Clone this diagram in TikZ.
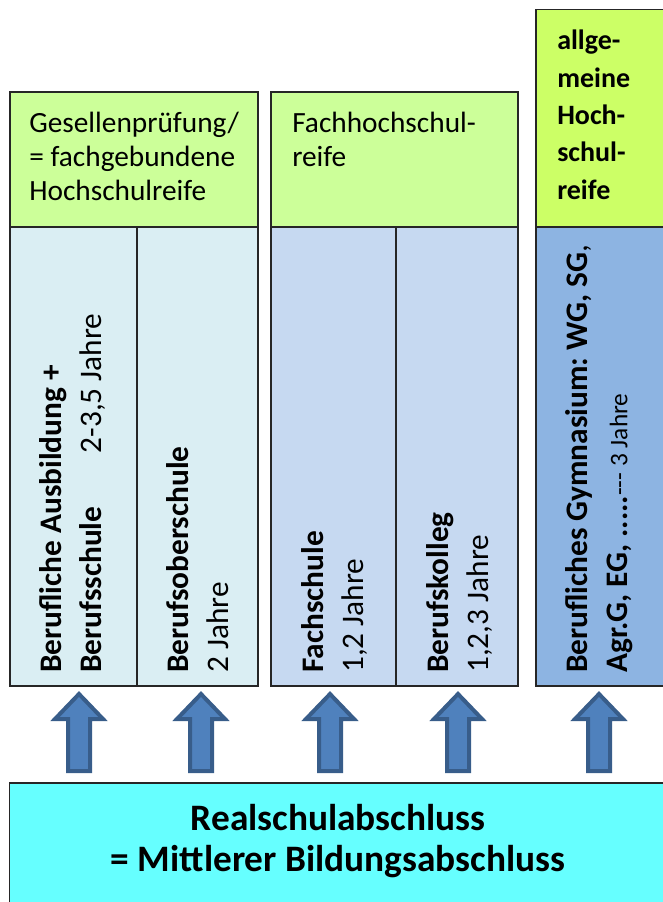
\documentclass[tikz,border=0pt]{standalone}
\usepackage{fontspec}
\setmainfont{Carlito}
\frenchspacing

\definecolor{kopfgruen}{HTML}{CCFF99}
\definecolor{kopfgelb}{HTML}{CCFF66}
\definecolor{hellblau}{HTML}{DAEEF3}
\definecolor{mittelblau}{HTML}{C6D9F1}
\definecolor{dunkelblau}{HTML}{8DB4E2}
\definecolor{tuerkis}{HTML}{66FFFF}
\definecolor{pfeilblau}{HTML}{4F81BD}
\definecolor{pfeilrand}{HTML}{385D8A}

\tikzset{
  kasten/.style={draw=black!85, line width=1.1pt},
  kopftext/.style={anchor=north west, align=left, inner sep=0pt,
    font=\fontsize{22}{25.5}\selectfont},
  spaltentext/.style={rotate=90, anchor=north west, align=left, inner sep=0pt,
    font=\fontsize{23.5}{30}\selectfont},
  pfeil/.style={fill=pfeilblau, draw=pfeilrand, line width=3pt, line join=miter},
}

\begin{document}
\begin{tikzpicture}[x=0.75pt, y=-0.75pt]
    \useasboundingbox (0,0) rectangle (663,902);
    \clip (0,0) rectangle (663,902);

    % Kaesten
    \path[kasten, fill=kopfgruen] (10,92) rectangle (258,227);
    \path[kasten, fill=hellblau] (10,227) rectangle (258,686);
    \draw[kasten] (137,227) -- (137,686);

    \path[kasten, fill=kopfgruen] (271,92) rectangle (518,227);
    \path[kasten, fill=mittelblau] (271,227) rectangle (518,686);
    \draw[kasten] (396,227) -- (396,686);

    \path[kasten, fill=kopfgelb] (536,9.5) rectangle (690,227);
    \path[kasten, fill=dunkelblau] (536,227) rectangle (690,686);

    \path[kasten, fill=tuerkis] (9.5,783) rectangle (690,920);

    % Abschluesse
    \node[kopftext] (gesellen) at (29,112) {Gesellenpr\"ufung/\\= fachgebundene\\Hochschulreife};
    \node[kopftext] (fhr) at (292,112) {Fachhochschul-\\reife};
    \node[kopftext, font=\fontsize{21}{28}\selectfont\bfseries] (ahr) at (557,30)
        {allge-\\meine\\Hoch-\\schul-\\reife};

    % Schularten
    \node[spaltentext] (ausbildung) at (39,673)
        {\textbf{Berufliche Ausbildung +}\\\textbf{Berufsschule}\hspace{40pt}2-3,5 Jahre};
    \node[spaltentext] (bos) at (166,673) {\textbf{Berufsoberschule}\\2 Jahre};
    \node[spaltentext] (fachschule) at (301,673) {\textbf{Fachschule}\\1,2 Jahre};
    \node[spaltentext] (kolleg) at (426,673) {\textbf{Berufskolleg}\\1,2,3 Jahre};
    \node[spaltentext] (gymnasium) at (565,673)
        {\textbf{Berufliches Gymnasium: WG, SG},\\\textbf{Agr.G, EG, .....}{\fontsize{19}{19}\selectfont-{}-{}- 3 Jahre}};

    % Pfeile
    \foreach \cx in {79,201,330,458,599}
        \path[pfeil] (\cx,694) -- (\cx+24,719) -- (\cx+11,719) -- (\cx+11,771)
            -- (\cx-11,771) -- (\cx-11,719) -- (\cx-24,719) -- cycle;

    \node[align=center, font=\fontsize{28}{31}\selectfont\bfseries] (realschule) at (338,841)
        {Realschulabschluss\\= Mittlerer Bildungsabschluss};
\end{tikzpicture}
\end{document}
